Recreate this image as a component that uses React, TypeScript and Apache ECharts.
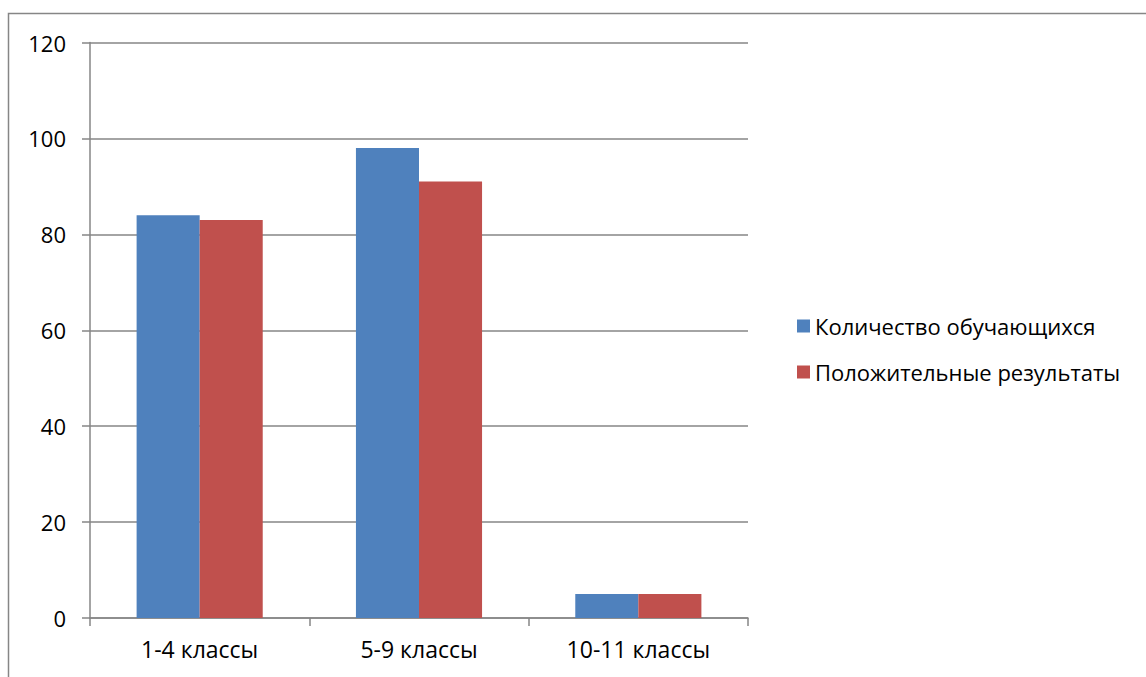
import React, { useEffect, useRef } from "react";
import * as echarts from "echarts";

const categories = ["1-4 классы", "5-9 классы", "10-11 классы"];
const seriesNames = ["Количество обучающихся", "Положительные результаты"];
const students = [84, 98, 5];
const positive = [83, 91, 5];
const colors = ["#4F81BD", "#C0504D"];

export default function App() {
  const ref = useRef<HTMLDivElement>(null);
  useEffect(() => {
    const chart = echarts.init(ref.current!, undefined, { renderer: "svg" });
    const font = "'Open Sans', sans-serif";
    chart.setOption({
      animation: false,
      textStyle: { fontFamily: font },
      graphic: [
        {
          type: "rect",
          shape: { x: 8.5, y: 13.5, width: 1200, height: 800 },
          style: { fill: "none", stroke: "#868686", lineWidth: 1.5 },
          silent: true,
        },
      ],
      grid: { left: 90, right: 398, top: 42.5, bottom: 59 },
      legend: {
        orient: "vertical",
        left: 792,
        top: 310,
        itemWidth: 13,
        itemHeight: 13,
        itemGap: 24,
        icon: "rect",
        textStyle: { fontSize: 22, color: "#000", fontFamily: font },
        data: seriesNames,
      },
      xAxis: {
        type: "category",
        data: categories,
        axisLine: { lineStyle: { color: "#868686", width: 1.5 } },
        axisTick: { show: true, length: 8, lineStyle: { color: "#868686", width: 1.5 } },
        axisLabel: { fontSize: 23, color: "#000", margin: 19, fontFamily: font },
      },
      yAxis: {
        type: "value",
        min: 0,
        max: 120,
        interval: 20,
        axisLine: { show: true, lineStyle: { color: "#868686", width: 1.5 } },
        axisTick: { show: true, length: 8, lineStyle: { color: "#868686", width: 1.5 } },
        axisLabel: { fontSize: 22, color: "#000", margin: 24, fontFamily: font },
        splitLine: { lineStyle: { color: "#868686", width: 1.5 } },
      },
      series: [
        {
          name: seriesNames[0],
          type: "bar",
          data: students,
          itemStyle: { color: colors[0] },
          barGap: "0%",
          barCategoryGap: "42.5%",
        },
        {
          name: seriesNames[1],
          type: "bar",
          data: positive,
          itemStyle: { color: colors[1] },
          barGap: "0%",
          barCategoryGap: "42.5%",
        },
      ],
    });
    return () => chart.dispose();
  }, []);
  return <div ref={ref} style={{ width: 1146, height: 677, position: "absolute", left: 0, top: 0 }} />;
}
